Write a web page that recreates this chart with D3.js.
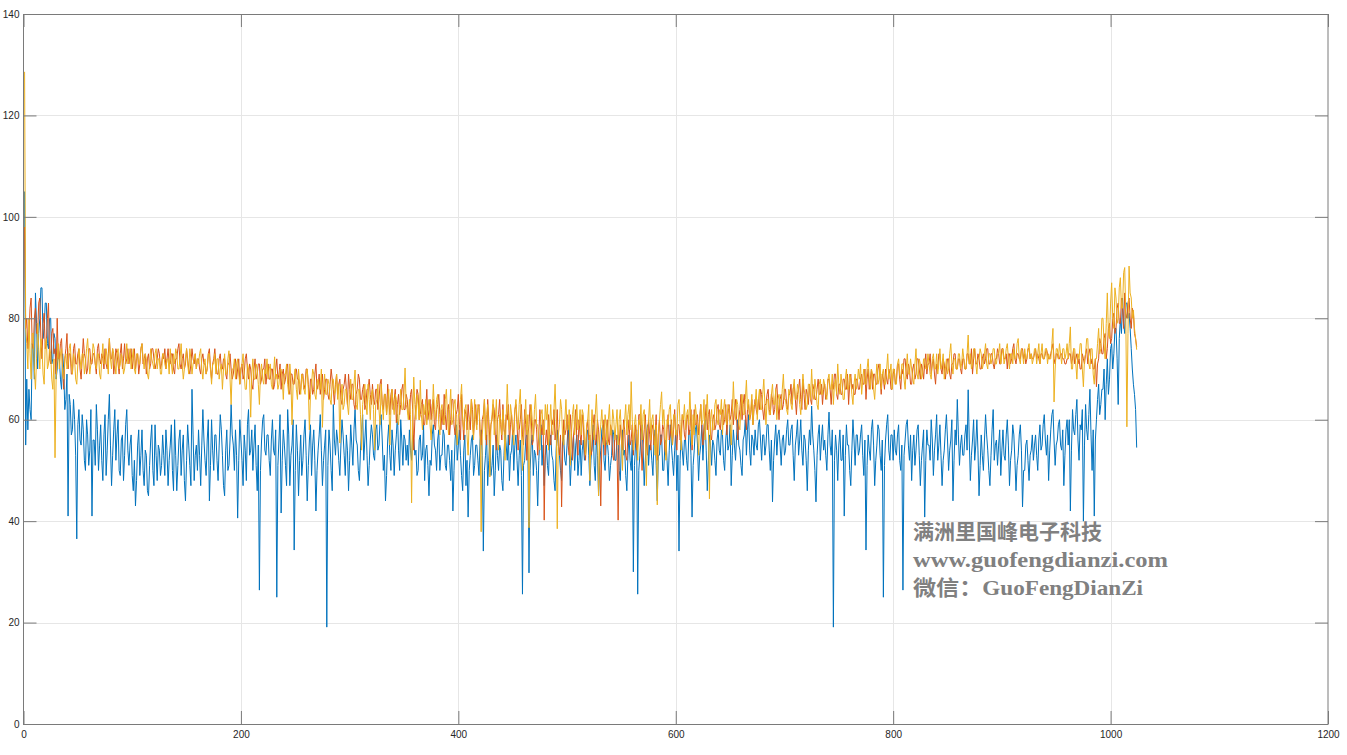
<!DOCTYPE html>
<html><head><meta charset="utf-8">
<script src="https://cdn.jsdelivr.net/npm/d3@7"></script>
<style>body{margin:0;background:#fff;overflow:hidden}</style>
</head><body><svg id="c" width="1347" height="755"></svg>
<script>
const xTicks=[0,200,400,600,800,1000,1200];
const yTicks=[0,20,40,60,80,100,120,140];
const xFirst=1, xLast=1024;
const blue=[
105,55,68,58,66,62,60,75,74,68,85,79,70,77,80,86,86,76,78,83,83,75,74,80,80,71,72,77,76,68,70,74,
72,68,66,73,70,62,64,69,41,65,63,57,58,64,60,53,36.5,59,62,56,55,61,58,52,50,60,57,51,54,62,41,56,
56,51,63,58,50,55,59,52,48,57,61,49,54,60,65,55,47,53,58,62,52,57,60,50,49,56,57,48,53,59,62,54,
51,55,57,49,46,52,43,48,55,58,49,53,58,50,47,54,53,46,45,51,56,59,50,47,59,53,48,55,54,49,51,57,
53,49,58,54,47,52,55,59,50,46,60,53,46,51,56,58,49,54,57,48,44,52,59,55,51,47,66,57,48,53,55,50,
58,53,47,55,62,56,52,49,56,60,44,51,60,54,50,57,57,52,48,55,61,58,53,47,45,54,58,50,51,56,63,57,
55,50,58,53,40.6,52,60,56,52,47,57,54,48,59,62,53,54,58,50,55,59,51,46,55,26.4,50,56,60,61,54,53,57,
57,52,49,56,60,54,53,58,25,51,56,61,41.6,52,58,55,51,47,62,57,47,53,55,60,34.3,50,59,54,45,52,57,49,
52,57,60,53,44,51,56,59,49,55,58,52,42,50,54,57,61,54,47,52,55,58,19.1,51,58,55,50,46,63,56,53,58,
56,52,49,55,60,57,53,49,57,54,46,52,59,55,51,58,62,56,55,50,48,54,58,61,52,56,60,53,47,51,56,59,
57,53,52,58,59,54,55,60,61,56,50,53,44,49,56,59,53,50,58,55,49,54,57,61,54,50,60,56,51,57,56,52,
55,51,58,54,52,57,56,53,54,49,50,56,57,52,53,59,48,54,55,51,45,52,51,57,59,55,54,50,56,58,50,53,
53,58,57,51,50,55,55,52,48,54,42,50,56,59,52,55,58,53,49,46,54,57,47,52,40.8,50,53,56,57,49,51,55,
55,52,49,56,58,53,34.1,50,53,57,47,52,56,49,51,55,45,50,57,53,50,55,54,48,46,53,58,55,52,57,48,53,
54,58,50,55,57,52,47,53,56,49,25.6,51,52,56,58,54,29.8,50,55,57,49,54,53,50,43,52,56,59,51,55,47,53,
55,51,49,56,57,53,52,48,46,54,58,55,53,50,48,57,56,52,51,55,59,54,47,52,54,57,50,55,57,49,52,56,
49,54,56,52,53,57,58,53,47,52,55,59,51,48,57,53,45,51,54,58,59,52,50,55,56,53,48,51,53,58,57,52,
52,57,56,50,48,55,58,53,54,49,46,53,57,52,50,56,30,51,55,58,25.6,50,53,57,59,54,47,52,56,59,51,55,
55,52,49,56,58,51,44,53,53,57,57,50,50,55,56,52,47,54,59,55,52,49,54,58,46,53,34.1,52,57,54,51,56,
56,52,50,57,58,53,40.8,51,54,58,59,55,48,53,55,59,52,57,60,54,46,52,57,55,51,56,55,52,49,56,58,54,
53,58,57,52,50,56,59,54,55,59,47,53,58,55,52,57,60,55,54,51,49,56,57,60,53,58,61,54,51,57,56,53,
58,55,54,59,60,56,52,57,57,53,55,59,59,54,50,56,43.8,52,56,59,53,57,58,55,51,56,57,53,54,58,60,55,
55,58,59,53,48,55,57,60,53,56,60,54,51,57,56,52,46,54,58,55,62.7,57,54,50,43.8,53,57,59,52,56,59,54,
56,53,50,57,61.5,55,53,58,19.1,52,57,54,48,55,58,52,52,57,41,53,59,55,55,50,47,54,60,56,51,57,57,53,
54,57,59,53,49,56,34.3,51,57,54,52,58,60,55,47,52,55,59,58,53,50,56,25,51,56,59,61,54,52,57,57,52,
58,54,53,57,59,52,50,55,26.4,53,56,59,60,55,52,57,48,54,57,51,54,58,59,53,47,52,55,58,40.8,52,58,55,
55,52,60,56,49,54,57,61,52,55,59,53,47,52,54,58,61,56,50,54,56,60,44,52,58,55,64,57,51,55,57,53,
53,57,59,54,65.9,56,48,53,56,60,52,55,60,54,45,51,57,53,50,56,61,57,54,50,47,53,58,62,52,55,56,51,
55,58,49,54,58,53,52,57,60,55,47,52,54,59,57,52,46,51,53,57,59,54,42.8,50,50,55,56,52,48,53,54,57,
52,55,57,53,50,56,59,54,55,59,61,56,53,57,48,54,58,61,62,56,51,55,56,59,60,55,54,58,47,53,58,60,
55,60,42,54,62,58,57,61,64,56,52,59,58,62,40,55,63,58,56,61,66,57,50,58,41,56,60,64,67,61,63,66,
66,70,60,67,72,65,68,74,75,70,73,78,78,72,63,76,80,77,84,79,77,83,83,80,81,78,74,70,67,65,62,54.5];
const red=[
98,78,80,74,76,82,84,75,74,80,82,77,77,83,84,76,72,79,81,74,75,80,83,72,71,77,78,73,74,69,80,72,
72,75,76,70,66,72,74,77,70,73,73,69,69,74,75,71,71,73,74,70,68,72,76,73,72,69,70,74,74,71,71,73,
73,71,69,74,75,72,71,73,72,70,74,71,70,73,76,72,72,74,69,71,74,73,71,69,73,75,70,72,75,71,72,74,
71,73,74,70,72,74,70,72,73,69,71,74,75,71,72,73,69,72,73,70,71,74,74,72,70,71,72,74,73,70,71,73,
72,74,70,72,74,71,71,73,73,70,69,72,72,74,75,71,70,72,73,70,71,74,72,70,69,71,74,72,71,73,70,72,
72,70,69,72,73,71,71,69,70,73,74,70,68,71,72,74,71,69,69,72,73,70,70,72,72,69,68,71,71,73,70,68,
69,71,72,68,70,72,67,70,71,68,69,72,73,70,68,71,70,67,66,70,72,68,69,71,71,67,68,70,70,72,67,69,
71,68,68,70,70,66,67,70,72,68,69,71,66,69,70,67,68,70,71,66,65,69,69,67,67,70,70,68,68,65,66,69,
69,66,67,70,70,67,64,68,68,65,66,69,71,66,67,69,65,67,69,64,66,68,68,65,64,67,70,68,66,63,67,69,
65,67,68,64,63,66,67,69,66,63,69,66,64,67,67,63,62,65,66,69,68,64,64,66,67,62,63,66,66,68,65,63,
67,64,63,66,66,62,64,67,68,63,62,65,65,61,67,64,61,65,66,62,64,66,59.4,63,65,61,63,66,67,62,62,65,
64,61,60,65,66,62,54,60,63,66,65,60,61,63,64,59,59,62,66,60,62,64,60,63,64,59,58,62,63,65,61,58,
62,59,65,61,58,62,63,57,60,64,64,59,57,61,62,65,59,56,65,60,56,62,61,58,63,60,58,64,62,57,60,63,
59,62,63,57,55,60,61,64,58,55,64,60,56,59,60,63,62,57,54,60,61,64,59,56,63,58,57,61,60,63,55,59,
61,57,58,62,63,59,54,58,60,63,57,55,62,59,52,57,59,63,61,55,56,60,60,58,53,57,62,59,57,60,40.2,55,
58,55,61,57,55,60,59,62,56,58,62,55,53,57,42.8,54,60,57,58,61,55,53,61,58,52,57,59,62,56,53,60,57,
55,61,59,54,52,58,60,56,57,53,54,59,61,55,56,60,58,54,43,55,57,60,53,58,60,56,55,59,58,53,52,57,
57,54,40.2,55,59,56,54,60,58,53,52,57,60,55,56,59,53,57,59,54,55,61,61,56,50,55,58,61,56,53,60,57,
54,58,59,55,57,61,52,57,60,55,56,59,58,54,53,58,61,56,57,60,55,58,62,57,54,59,59,56,57,61,60,57,
56,60,61,57,58,62,54,58,62,59,59,61,57,60,63,58,55,59,60,63,58,61,62,57,56,60,61,58,59,62,63,59,
58,61,62,59,60,63,57,61,63,60,61,64,59,62,64,60,56,60,62,65,60,63,65,61,58,62,63,60,61,64,59,62,
64,62,61,64,62,66,65,62,60,63,63,65,66,62,61,65,64,61,62,66,67,63,60,64,65,62,63,66,66,63,62,65,
65,67,63,66,67,64,61,65,66,68,64,62,68,65,62,66,65,63,67,64,63,67,66,64,64,66,68,65,65,67,63,66,
67,64,65,68,68,66,63,67,66,69,69,65,64,67,67,65,65,68,68,66,66,69,63,67,69,66,67,65,65,68,68,66,
66,68,69,67,67,70,64,68,70,66,68,70,66,69,69,67,67,70,71,68,65,69,68,66,70,68,67,70,69,66,66,69,
70,67,68,71,71,68,66,70,69,72,72,69,68,71,70,67,67,70,71,68,69,72,72,70,68,71,70,68,71,73,69,71,
71,73,69,71,72,69,67,71,70,73,73,70,69,72,71,68,70,72,72,69,68,71,71,73,73,70,70,72,72,70,69,72,
72,70,70,73,73,71,71,74,69,72,74,71,71,73,72,70,70,72,73,71,72,74,74,71,71,73,73,71,70,72,72,74,
73,71,71,74,74,72,72,73,70,73,73,71,72,74,75,72,71,73,73,72,72,74,74,72,73,71,72,74,74,72,73,72,
72,73,74,72,73,72,71,73,73,72,72,73,74,73,72,72,73,74,75,72,71,73,73,72,72,73,73,72,72,71,71,72,
72,73,73,71,72,74,71,72,73,71,72,70,70,73,72,71,73,74,71,73,74,71,72,70,70,72,66.5,71,72,76,75,73,
73,76,77,72,74,78,79,75,76,80,81,77,78,82,83,79,79,84,82,78,85,81,80,83,84,80,78,82,81,77,76,74.4];
const yellow=[
128.6,78,75,70,80,73,68,77,77,70,66,72,79,74,70,76,74,69,67,75,76,70,71,74,73,68,66,72,52.5,68,72,75,
70,73,74,69,68,72,73,70,71,74,75,71,69,73,72,68,67,71,74,72,70,73,73,69,71,74,76,72,69,71,72,75,
74,71,70,73,73,69,68,72,75,71,71,74,72,69,76,72,70,74,73,71,69,73,74,70,71,73,72,69,70,72,75,71,
72,74,70,72,74,70,69,73,73,71,71,74,75,72,70,73,72,69,68,71,74,72,71,70,73,74,70,72,72,69,69,73,
73,71,70,72,72,69,74,71,69,73,71,74,73,70,70,72,75,71,68,70,72,74,71,69,74,72,69,71,72,73,70,72,
71,73,74,70,68,71,72,69,70,73,73,70,67,71,71,73,69,72,72,68,70,71,66,70,73,69,69,72,73.6,68,63,70,
70,72,68,71,72,69,67,70,71,73,69,66,66,71,70,68,60.5,69,72,68,68,71,70,67,63,69,71,68,67,70,69,72,
68,70,71,67,66,69,72.4,68,69,66,67,70,70,68,64,69,69,71,67,65,71,68,59,67,68,70,66,64,70,67,65,69,
68,66,65,69,70,66,58,65,67,70,69,65,64,67,68,66,66,70,58.5,66,69,65,65,68,67,64,63,68,68,65,66,69,
64,67,55.4,64,67,62,63,66,66,63,61,65,68,64,64,67,69.8,63,62,66,66,61,54,63,65,67,63,61,67,64,60,65,
66,62,54,63,64,67,62,59,67,63,60,65,65,61,63,66,55,62,66,63,61,65,64,60,59,63,66,62,62,65,70.2,63,
62,60,64,61,43.6,60,68.4,63,60,65,63,60,67.8,61,58,63,61,64,59,62,64,59,56,61,67,62,60,64,65,59,57,62,
63,60,59,64,66,61,57,62,66,59,60,63,64,58,55,61,61,64,67,60,58,62,63,57,53,60,61,64,59,56,64,60,
58,63,62,59,37.9,57,60,64,56,61,63,58,48.7,59,61,64,57,60,64,56,54,61,60,57,62,59,52,60,67,61,58,63,
61,58,55,62,64,60,58,63,66,59,50,58,60,64,57,61,38.7,58,63,60,56,62,65,59,59,56,54,61,62,58,57,63,
60,63,54,59,63,58,57,62,67,60,38.5,57,59,64,62,56,55,60,64,58,58,62,51,57,61,63,57,60,63,58,59,62,
57,62,61,56,53,59,60,63,48,57,62,58,56,61,65,59,45,56,59,62,58,55,61,59,55,60,63,57,57,62,60,56,
59,62,55,60,62,57,50,58,60,63,57,61,63,58,67.5,60,54,59,61,57,52,60,59,63,56,61,62,57,47,58,60,64,
56,60,61,57,53,59,43.2,57,60,63,65.5,59,62,58,52,60,59,62,63,58,55,61,61,57,57,63,64,59,54,61,60,63,
58,61,62,59,65.5,60,55,61,57,63,61,58,53,60,63,59,60,64,56,61,65,59,44.4,60,62,58,58,63,64,60,59,62,
61,64,57,62,64,60,59,63,62,59,55,61,67.5,62,60,64,63,59,58,63,65,61,61,64,67.8,62,64,60,62,65,59,63,
63,66,60,64,66,62,62,65,68,63,59,64,64,61,61,65,67,63,63,66,60,64,65,62,62,66,69,64,64,62,61,66,
65,63,62,66,68,64,64,67,66,63,61,65,69,66,65,62,63,67,67,64,70,65,64,68,66,63,62,67,68,65,65,68,
67,65,64,68,69,66,66,69,63,67,68,65,71,67,65,69,67,64,64,68,70,66,66,69,68,65,63,67,69,66,67,70,
68,71,65,68,70,67,67,70,72,68,66,70,69,66,64,68,71,67,68,71,66,69,70,67,67,70,73,68,69,71,66,70,
70,67,67,71,72,69,68,71,71,68,66,70,73,69,69,72,70,68,67,71,74,69,68,72,71,68,69,72,72,70,70,73,
71,69,68,72,73,70,70,73,69,71,74,70,71,73,68,70,72,69,70,73,75,71,69,72,72,70,70,73,73,70,71,74,
72,70,70,73,76.7,71,73,70,71,74,74,71,69,72,72,74,73,70,71,73,75,71,70,73,73,71,72,74,74,71,71,73,
73,75,71,73,74,71,72,74,75,72,70,73,73,71,74,72,72,75,76,72,71,74,73,71,74,72,72,74,75,72,73,71,
72,74,74,71,73,75,71,73,75,72,72,74,74,71,73,72,72,75,78,63.5,70,74,74,72,75,73,71,74,74,72,73,75,
72,75,78.3,70,70,74,74,71,68,73,72,75,75,70,66.5,72,73,76,76,71,70,74,74,69,67,72,72,75,78,73,74,80,
80,75,72,79,85,77,76,83,87,80,78,86,84,79,80,86,88,82,82,89,90,80,58.6,77,90.3,85,84,80,81.6,78,76,73.8];
const seriesColors=["#0072BD","#D95319","#EDB120"];
const watermark=["满洲里国峰电子科技","www.guofengdianzi.com","微信：GuoFengDianZi"];

const svg=d3.select("#c");
const L=23.5,R=1328,T=14,B=724;
const x=d3.scaleLinear().domain([0,1200]).range([L,R]);
const y=d3.scaleLinear().domain([0,140]).range([B,T]);

// grid
const g=svg.append("g");
g.selectAll("line.gx").data(xTicks.slice(1,-1)).join("line")
 .attr("x1",d=>Math.round(x(d))+0.5).attr("x2",d=>Math.round(x(d))+0.5)
 .attr("y1",T).attr("y2",B).attr("stroke","#e6e6e6").attr("stroke-width",1);
g.selectAll("line.gy").data(yTicks.slice(1,-1)).join("line")
 .attr("y1",d=>Math.round(y(d))+0.5).attr("y2",d=>Math.round(y(d))+0.5)
 .attr("x1",L).attr("x2",R).attr("stroke","#e6e6e6").attr("stroke-width",1);

// lines
[blue,red,yellow].forEach((s,k)=>{
 const xi=d3.scaleLinear().domain([0,s.length-1]).range([xFirst,xLast]);
 const line=d3.line().x((d,i)=>x(xi(i))).y(d=>y(d));
 svg.append("path").datum(s).attr("d",line).attr("fill","none")
  .attr("stroke",seriesColors[k]).attr("stroke-width",1).attr("stroke-linejoin","round");
});

// axes
const axColor="#7a7a7a";
function style(sel,showText){
 sel.select(".domain").remove();
 sel.selectAll(".tick line").attr("stroke",axColor);
 sel.selectAll(".tick text").attr("fill","#262626").style("font-family","'Liberation Sans',Arial,sans-serif").style("font-size","10px");
 if(!showText) sel.selectAll(".tick text").remove();
}
svg.append("g").attr("transform",`translate(0,${B})`)
 .call(d3.axisBottom(x).tickValues(xTicks).tickFormat(d3.format("d")).tickSize(-13).tickPadding(7))
 .call(s=>style(s,true));
svg.append("g").attr("transform",`translate(${L},0)`)
 .call(d3.axisLeft(y).tickValues(yTicks).tickFormat(d3.format("d")).tickSize(-13).tickPadding(4))
 .call(s=>style(s,true));
svg.append("g").attr("transform",`translate(0,${T})`)
 .call(d3.axisTop(x).tickValues(xTicks).tickSize(-13))
 .call(s=>style(s,false));
svg.append("g").attr("transform",`translate(${R},0)`)
 .call(d3.axisRight(y).tickValues(yTicks).tickSize(-13))
 .call(s=>style(s,false));
svg.append("rect").attr("x",L).attr("y",T+0.5).attr("width",R-L).attr("height",B-T)
 .attr("fill","none").attr("stroke",axColor).attr("stroke-width",1);

// watermark
const wmX=913, wmY=[539,567,595], wmLen=[189,255,230], wmSize=[21,22,21];
svg.append("g").selectAll("text").data(watermark).join("text")
 .attr("x",wmX).attr("y",(d,i)=>wmY[i])
 .attr("textLength",(d,i)=>wmLen[i]).attr("lengthAdjust","spacingAndGlyphs")
 .style("font-family","'Liberation Serif','Noto Sans CJK SC',serif")
 .style("font-weight","bold").style("font-size",(d,i)=>wmSize[i]+"px")
 .attr("fill","#808080").text(d=>d);
</script></body></html>
